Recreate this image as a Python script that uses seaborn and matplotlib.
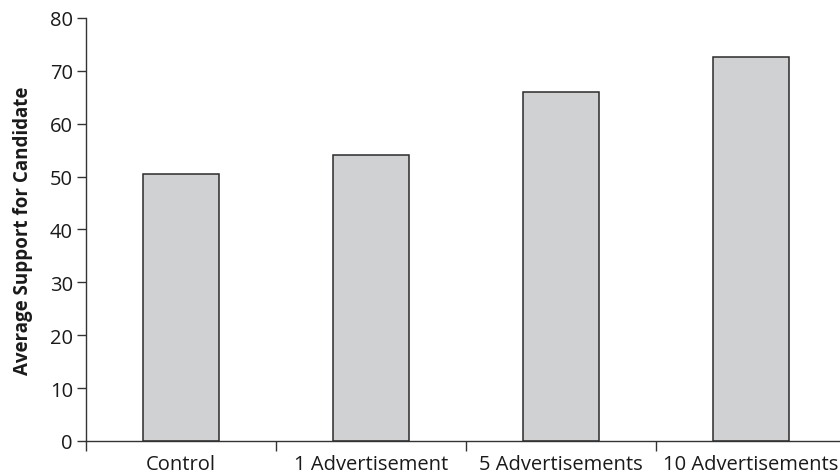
import matplotlib
matplotlib.use("Agg")
import matplotlib.pyplot as plt
import seaborn as sns
import pandas as pd

conditions = ["Control", "1 Advertisement", "5 Advertisements", "10 Advertisements"]
support = [50.5, 54.1, 66.0, 72.6]
y_ticks = [0, 10, 20, 30, 40, 50, 60, 70, 80]

df = pd.DataFrame({"condition": conditions, "support": support})

sns.set_style("white")
plt.rcParams["font.family"] = ["Open Sans", "DejaVu Sans"]

fig = plt.figure(figsize=(8.4, 4.77), dpi=100)
ax = fig.add_axes([86 / 840, 35 / 477, 760 / 840, 423 / 477])

sns.barplot(data=df, x="condition", y="support", color="#d0d1d3", saturation=1,
            width=0.4, edgecolor="#2b2b2b", linewidth=1.1, ax=ax)

ax.set_xlim(-0.5, 3.5)
ax.set_ylim(0, 80)
ax.set_yticks(y_ticks)
ax.set_xticks([i - 0.5 for i in range(len(conditions) + 1)], minor=True)

ax.spines["top"].set_visible(False)
ax.spines["right"].set_visible(False)
for s in ("left", "bottom"):
    ax.spines[s].set_color("#333333")
    ax.spines[s].set_linewidth(1.0)

ax.tick_params(axis="y", which="major", direction="out", length=6.5, width=1.0,
               color="#333333", left=True, labelsize=14.5, pad=3, labelcolor="#1a1a1a")
ax.tick_params(axis="x", which="major", length=0, labelsize=14.5, pad=9.5, labelcolor="#1a1a1a")
ax.tick_params(axis="x", which="minor", direction="out", length=7, width=1.0,
               color="#333333", bottom=True)

ax.set_xlabel("")
ax.set_ylabel("Average Support for Candidate", fontsize=13.5, fontweight="bold",
              labelpad=12, color="#1a1a1a")

fig.savefig("out.png", dpi=100)
